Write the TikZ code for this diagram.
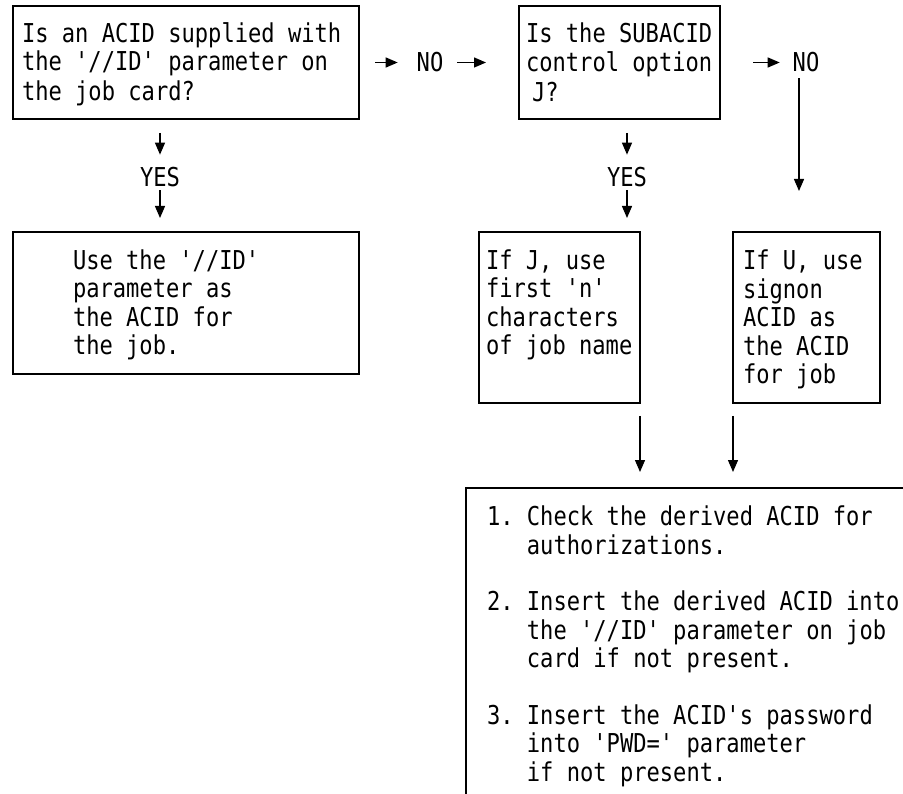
\documentclass[tikz,border=0pt]{standalone}
\usepackage{fontspec}
\usepackage{tikz}
\usetikzlibrary{arrows.meta, calc}
\newfontfamily\chartfont[FakeStretch=0.85]{DejaVu Sans Mono}
\newcommand{\chartsize}{\chartfont\fontsize{26}{28.4}\selectfont\frenchspacing}
\newcommand{\rowstrut}{\spaceskip=13.3pt\xspaceskip=13.3pt\rule[-4.7pt]{0pt}{28.4pt}}
\tikzset{
  chartbox/.style={draw, line width=1.3pt, anchor=north west, align=left,
    inner ysep=0pt, outer sep=0pt, font=\chartsize,
    execute at begin node=\rowstrut, execute at end node=\rowstrut},
  answer/.style={inner sep=0pt, outer sep=0pt, font=\chartsize},
  flowarrow/.style={line width=1.3pt, -{Triangle[length=12pt, width=10pt]}}
}

\begin{document}
\begin{tikzpicture}[x=1pt, y=-1pt]
  \useasboundingbox (0,0) rectangle (903,794);
  \node[chartbox, minimum width=346pt, minimum height=113pt, inner xsep=9pt, text width=328pt]
    (askid) at (13,6) {Is an ACID supplied with\\the '//ID' parameter on\\the job card?};
  \node[chartbox, minimum width=201pt, minimum height=113pt, inner xsep=7pt, text width=187pt]
    (asksub) at (519,6) {Is the SUBACID\\control option\\\hspace*{6pt}J?};
  \node[chartbox, minimum width=346pt, minimum height=142pt, inner xsep=60pt, text width=226pt]
    (useid) at (13,232) {Use the '//ID'\\parameter as\\the ACID for\\the job.};
  \node[chartbox, minimum width=161pt, minimum height=171pt, inner xsep=7pt, text width=147pt]
    (usejob) at (479,232) {If J, use\\first 'n'\\characters\\of job name\\\mbox{}};
  \node[chartbox, minimum width=147pt, minimum height=171pt, inner xsep=10pt, text width=127pt]
    (usesign) at (733,232) {If U, use\\signon\\ACID as\\the ACID\\for job};
  \node[chartbox, inner xsep=21pt, inner ysep=14pt, text width=440pt]
    (steps) at (466,488) {1. Check the derived ACID for\\\hphantom{1.M}authorizations.\\\mbox{}\\
      2. Insert the derived ACID into\\\hphantom{2.M}the '//ID' parameter on job\\\hphantom{2.M}card if not present.\\\mbox{}\\
      3. Insert the ACID's password\\\hphantom{3.M}into 'PWD=' parameter\\\hphantom{3.M}if not present.\\\mbox{}};

  \node[answer] (nofirst) at (430,62.5) {NO};
  \node[answer] (nosecond) at (806,62.5) {NO};
  \node[answer] (yesfirst) at (160,177.5) {YES};
  \node[answer] (yessecond) at (627,177.5) {YES};

  \draw[flowarrow] ($(askid.east)+(16,0)$) -- ($(nofirst.west)+(-19,0)$);
  \draw[flowarrow] ($(nofirst.east)+(14,0)$) -- ($(asksub.west)+(-33,0)$);
  \draw[flowarrow] ($(asksub.east)+(33,0)$) -- ($(nosecond.west)+(-13,0)$);
  \draw[flowarrow] ($(nosecond.south)+(-7,6)$) -- ($(nosecond.south |- usesign.north)+(-7,-41)$);

  \draw[flowarrow] ($(yesfirst.north |- askid.south)+(0,14)$) -- ($(yesfirst.north)+(0,-13)$);
  \draw[flowarrow] ($(yesfirst.south)+(0,3)$) -- ($(yesfirst.south |- useid.north)+(0,-14)$);
  \draw[flowarrow] ($(yessecond.north |- asksub.south)+(0,14)$) -- ($(yessecond.north)+(0,-13)$);
  \draw[flowarrow] ($(yessecond.south)+(0,3)$) -- ($(yessecond.south |- usejob.north)+(0,-14)$);

  \draw[flowarrow] ($(usejob.south east)+(0,13)$) -- ($(usejob.south east |- steps.north)+(0,-16)$);
  \draw[flowarrow] ($(usesign.south west)+(0,13)$) -- ($(usesign.south west |- steps.north)+(0,-16)$);
\end{tikzpicture}
\end{document}
